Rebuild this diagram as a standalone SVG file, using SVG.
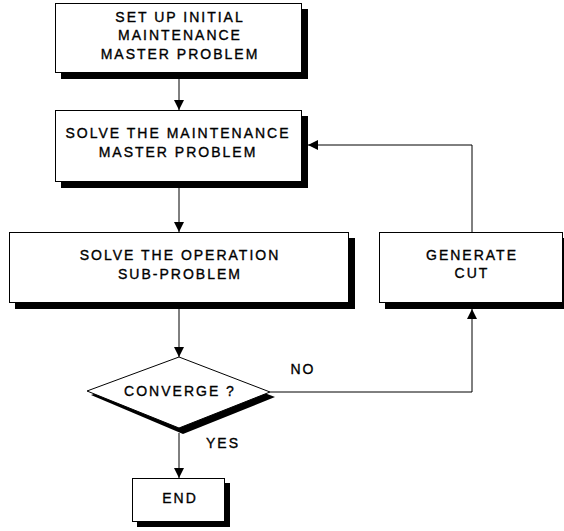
<svg xmlns="http://www.w3.org/2000/svg" width="564" height="531" viewBox="0 0 564 531">
<style>
.box{fill:#fff;stroke:#000;stroke-width:1}
.sh{fill:#000}
.t{font-family:"Liberation Sans",Arial,sans-serif;font-size:14px;letter-spacing:2px;text-anchor:middle;fill:#000;stroke:#000;stroke-width:0.35}
.ln{fill:none;stroke:#000;stroke-width:1}
</style>
<defs>
<marker id="ah" viewBox="0 0 10 10" refX="10" refY="5" markerWidth="10" markerHeight="10" markerUnits="userSpaceOnUse" orient="auto">
<path d="M0,0 L10,5 L0,10 Z" fill="#000"/>
</marker>
</defs>
<rect width="564" height="531" fill="#fff"/>
<g id="connectors">
<line class="ln" x1="179" y1="79" x2="179" y2="110" marker-end="url(#ah)"/>
<line class="ln" x1="179" y1="188" x2="179" y2="232" marker-end="url(#ah)"/>
<line class="ln" x1="179" y1="309" x2="179" y2="357" marker-end="url(#ah)"/>
<line class="ln" x1="179" y1="433" x2="179" y2="478" marker-end="url(#ah)"/>
<polyline class="ln" points="270,392 472,392 472,309" marker-end="url(#ah)"/>
<polyline class="ln" points="472,232 472,145 308,145" marker-end="url(#ah)"/>
</g>
<g id="n1">
<rect class="sh" x="61" y="9" width="247" height="70"/>
<rect class="box" x="55.5" y="3.5" width="246" height="69"/>
<text class="t" x="180" y="22">SET UP INITIAL</text>
<text class="t" x="180" y="40">MAINTENANCE</text>
<text class="t" x="180" y="59">MASTER PROBLEM</text>
</g>
<g id="n2">
<rect class="sh" x="61" y="116" width="247" height="72"/>
<rect class="box" x="55.5" y="110.5" width="246" height="71"/>
<text class="t" x="178" y="138">SOLVE THE MAINTENANCE</text>
<text class="t" x="178" y="157">MASTER PROBLEM</text>
</g>
<g id="n3">
<rect class="sh" x="15" y="238" width="340" height="71"/>
<rect class="box" x="9.5" y="232.5" width="339" height="70"/>
<text class="t" x="180" y="260">SOLVE THE OPERATION</text>
<text class="t" x="180" y="279">SUB-PROBLEM</text>
</g>
<g id="n4">
<rect class="sh" x="385" y="238" width="184" height="71"/>
<rect class="box" x="379.5" y="232.5" width="183" height="70"/>
<text class="t" x="472" y="260">GENERATE</text>
<text class="t" x="472" y="278">CUT</text>
</g>
<g id="n5">
<polygon class="sh" points="183,362 275,397 183,434 91,395"/>
<polygon class="box" points="179,357 270,392 179,428 87,391"/>
<text class="t" x="180" y="396">CONVERGE ?</text>
</g>
<g id="n6">
<rect class="sh" x="137" y="483" width="93" height="44"/>
<rect class="box" x="132.5" y="478.5" width="92" height="43"/>
<text class="t" x="180" y="503">END</text>
</g>
<text class="t" x="303" y="374">NO</text>
<text class="t" x="223" y="448">YES</text>
</svg>
